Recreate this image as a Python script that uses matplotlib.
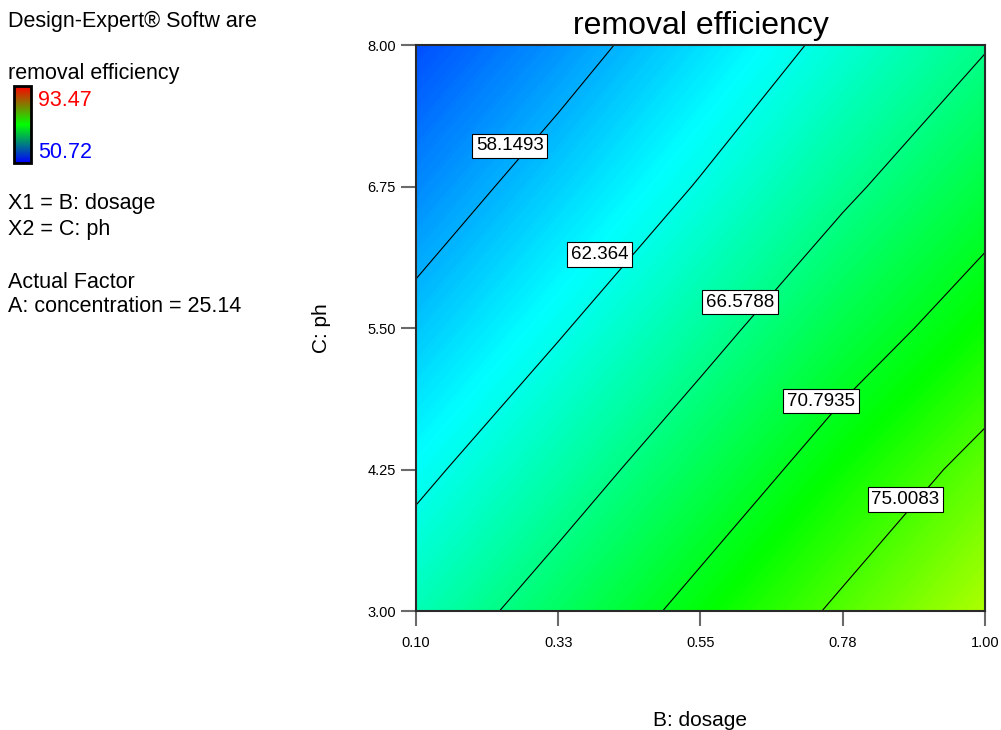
import numpy as np
import matplotlib
matplotlib.use("Agg")
import matplotlib.pyplot as plt
from matplotlib.colors import LinearSegmentedColormap, Normalize
from matplotlib.cm import ScalarMappable

plt.rcParams['font.family'] = ['Liberation Sans', 'DejaVu Sans']

# response surface read at the axis tick positions
dosage = [0.10, 0.325, 0.55, 0.775, 1.00]
ph = [3.00, 4.25, 5.50, 6.75, 8.00]
# rows follow ph, columns follow dosage
removal = [
    [64.49, 68.05, 71.79, 75.56, 79.30],
    [61.65, 64.99, 68.61, 72.35, 76.10],
    [59.03, 62.09, 65.50, 69.16, 72.40],
    [56.50, 59.48, 62.56, 66.00, 69.40],
    [54.01, 56.93, 60.05, 63.20, 66.40],
]
levels = [58.1493, 62.364, 66.5788, 70.7935, 75.0083]
zmin, zmax = 50.72, 93.47

xticks = [0.10, 0.325, 0.55, 0.775, 1.00]
xticklabels = ['0.10', '0.33', '0.55', '0.78', '1.00']
yticks = [3.00, 4.25, 5.50, 6.75, 8.00]
yticklabels = ['3.00', '4.25', '5.50', '6.75', '8.00']

surf_cmap = LinearSegmentedColormap.from_list(
    'de_surface', ['#0000ff', '#00ffff', '#00ff00', '#ffff00', '#ff0000'])
legend_cmap = LinearSegmentedColormap.from_list(
    'de_legend', ['#0000ff', '#00ff00', '#ff0000'])

fig = plt.figure(figsize=(10.01, 7.30), dpi=100)
ax = fig.add_axes([0.4156, 0.163, 0.5684, 0.775])

X, Y = np.meshgrid(dosage, ph)
Z = np.array(removal)
# dense shading bands so the fill reads as a continuous gradient
ax.contourf(X, Y, Z, levels=np.linspace(zmin, zmax, 400), cmap=surf_cmap,
            vmin=zmin, vmax=zmax, antialiased=False)
cs = ax.contour(X, Y, Z, levels=levels, colors='black', linewidths=0.8)

# boxed level labels, placed along each line
label_spots = [(0.248, 7.111), (0.390, 6.150), (0.6125, 5.730), (0.7406, 4.854), (0.8743, 3.987)]
for lv, (lx, ly) in zip(levels, label_spots):
    ax.text(lx, ly, f'{lv:g}', fontsize=13.5, ha='center', va='center', zorder=5,
            bbox=dict(boxstyle='square,pad=0.2', facecolor='white', edgecolor='black',
                      linewidth=0.8))

ax.set_xlim(0.10, 1.00)
ax.set_ylim(3.00, 8.00)
ax.set_xticks(xticks)
ax.set_xticklabels(xticklabels)
ax.set_yticks(yticks)
ax.set_yticklabels(yticklabels)
ax.tick_params(length=11, width=1.5, color='#6a6a6a', labelsize=10.5)
ax.tick_params(axis='x', pad=7)
ax.tick_params(axis='y', pad=3.5)
for sp in ax.spines.values():
    sp.set_linewidth(1.5)
    sp.set_color('#2a2a2a')

ax.set_title('removal efficiency', fontsize=23, pad=8)
ax.set_xlabel('B: dosage', fontsize=15)
ax.xaxis.set_label_coords(0.5, -0.177)
ax.set_ylabel('C: ph', fontsize=15)
ax.yaxis.set_label_coords(-0.15, 0.5)

# legend block on the left
fs = 15.5
fig.text(0.008, 1 - 21 / 730, 'Design-Expert® Softw are', fontsize=fs, va='center')
fig.text(0.008, 1 - 73 / 730, 'removal efficiency', fontsize=fs, va='center')
cax = fig.add_axes([0.014, 1 - 163 / 730, 0.017, 77 / 730])
cb = fig.colorbar(ScalarMappable(norm=Normalize(zmin, zmax), cmap=legend_cmap), cax=cax)
cb.set_ticks([])
cb.outline.set_linewidth(2)
cb.outline.set_edgecolor('black')
fig.text(0.038, 1 - 100 / 730, f'{zmax:.2f}', fontsize=fs, va='center', color='#ff0000')
fig.text(0.038, 1 - 153 / 730, f'{zmin:.2f}', fontsize=fs, va='center', color='#0000ff')
fig.text(0.008, 1 - 204 / 730, 'X1 = B: dosage', fontsize=fs, va='center')
fig.text(0.008, 1 - 229 / 730, 'X2 = C: ph', fontsize=fs, va='center')
fig.text(0.008, 1 - 282 / 730, 'Actual Factor', fontsize=fs, va='center')
fig.text(0.008, 1 - 307 / 730, 'A: concentration = 25.14', fontsize=fs, va='center')

fig.savefig('out.png', dpi=100)
